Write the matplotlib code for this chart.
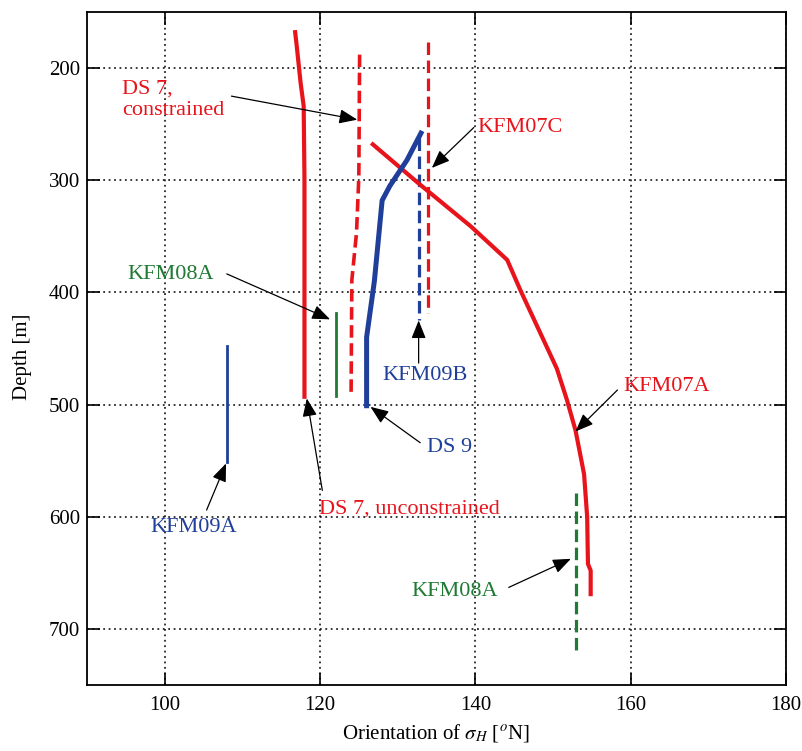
import matplotlib
matplotlib.use("Agg")
import matplotlib.pyplot as plt

plt.rcParams['font.family'] = ['Liberation Serif', 'DejaVu Serif']
plt.rcParams['mathtext.fontset'] = 'stix'
plt.rcParams['lines.scale_dashes'] = False

RED = '#e8141c'
BLUE = '#1f3f9a'
GREEN = '#1f7a33'

# profiles: depth [m] and orientation of sigma_H [deg N]
ds7u_depth = [168, 180, 213, 234, 300, 400, 493]
ds7u_az = [116.8, 117.0, 117.5, 117.9, 118.0, 118.0, 118.0]

ds7c_depth = [188, 297, 347, 389, 493]
ds7c_az = [125.1, 125.0, 124.7, 124.1, 124.0]

ds9_depth = [258, 282, 305, 318, 390, 440, 501]
ds9_az = [133.0, 131.2, 129.0, 128.0, 127.0, 126.0, 126.0]

kfm09b_depth = [262, 425]
kfm09b_az = [132.8, 132.8]

kfm07c_depth = [177, 418]
kfm07c_az = [133.9, 133.9]

kfm07a_depth = [268, 304, 341, 371, 398, 468, 496, 523, 562, 600, 642, 648, 669]
kfm07a_az = [126.8, 132.9, 139.4, 144.1, 145.8, 150.5, 151.8, 152.9, 154.0, 154.4, 154.5, 154.85, 154.85]

kfm08a_up_depth = [418, 492]
kfm08a_up_az = [122.0, 122.0]

kfm08a_low_depth = [579, 721]
kfm08a_low_az = [152.9, 152.9]

kfm09a_depth = [448, 551]
kfm09a_az = [108.0, 108.0]

# labels: text, x, y, colour
labels = [
    ('DS 7,\nconstrained', 94.5, 228, RED),
    ('KFM07C', 140.2, 253, RED),
    ('KFM08A', 95.2, 384, GREEN),
    ('KFM09B', 128.0, 474, BLUE),
    ('KFM07A', 159.1, 484, RED),
    ('DS 9', 133.8, 538, BLUE),
    ('DS 7, unconstrained', 119.9, 593, RED),
    ('KFM09A', 98.2, 610, BLUE),
    ('KFM08A', 131.8, 667, GREEN),
]

# arrows: tail (x, y) -> head (x, y)
arrows = [
    ((108.6, 225), (124.8, 246)),
    ((139.8, 253), (134.4, 289)),
    ((108.0, 383.5), (121.3, 424)),
    ((132.7, 463), (132.7, 425)),
    ((158.3, 487), (152.9, 524)),
    ((132.9, 534), (126.5, 502)),
    ((120.3, 576.5), (118.3, 494.5)),
    ((105.4, 594), (107.9, 552.5)),
    ((144.3, 663), (152.3, 637.5)),
]

fig = plt.figure(figsize=(8.02, 7.51), dpi=100)
ax = fig.add_axes([87 / 802, 1 - 685 / 751, 699 / 802, 673 / 751])

dash = (0, (9, 4))
ax.plot(ds7u_az, ds7u_depth, color=RED, lw=3.0, solid_joinstyle='round')
ax.plot(ds7c_az, ds7c_depth, color=RED, lw=2.6, linestyle=dash)
ax.plot(kfm07c_az, kfm07c_depth, color=RED, lw=2.3, linestyle=dash)
ax.plot(kfm09b_az, kfm09b_depth, color=BLUE, lw=2.3, linestyle=dash)
ax.plot(kfm07a_az, kfm07a_depth, color=RED, lw=3.0, solid_joinstyle='round')
ax.plot(ds9_az, ds9_depth, color=BLUE, lw=3.6, solid_joinstyle='round')
ax.plot(kfm08a_up_az, kfm08a_up_depth, color=GREEN, lw=2.0)
ax.plot(kfm08a_low_az, kfm08a_low_depth, color=GREEN, lw=2.3, linestyle=dash)
ax.plot(kfm09a_az, kfm09a_depth, color=BLUE, lw=2.0)

for txt, x, y, c in labels:
    ax.text(x, y, txt, color=c, fontsize=16, ha='left', va='center', linespacing=1.15)

for tail, head in arrows:
    ax.annotate('', xy=head, xytext=tail,
                arrowprops=dict(arrowstyle='-|>,head_length=0.55,head_width=0.22',
                                mutation_scale=20, color='black', lw=0.9,
                                shrinkA=0, shrinkB=0))

ax.set_xlim(90, 180)
ax.set_ylim(750, 150)
ax.set_xticks([100, 120, 140, 160, 180])
ax.set_yticks([200, 300, 400, 500, 600, 700])
ax.grid(True, color='black', linestyle=(0, (1.3, 2.6)), linewidth=1.1)
ax.tick_params(direction='in', length=9, width=1.2, labelsize=15,
               top=True, right=True, color='black')
ax.tick_params(axis='x', pad=8)
ax.tick_params(axis='y', pad=5)
for s in ax.spines.values():
    s.set_linewidth(1.3)

fig.text(436 / 802, 1 - 733 / 751, r'Orientation of $\sigma_H$ [$^o$N]',
         ha='center', va='center', fontsize=15)
fig.text(23 / 802, 1 - 357 / 751, 'Depth [m]', rotation=90,
         ha='center', va='center', fontsize=15)

fig.savefig('out.png', dpi=100)
